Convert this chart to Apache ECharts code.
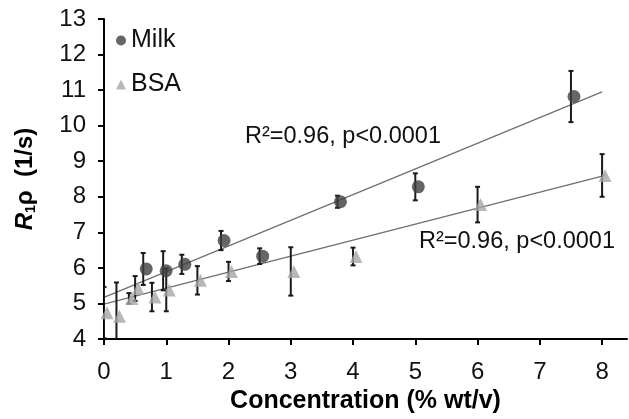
<!DOCTYPE html>
<html>
<head>
<meta charset="utf-8">
<script src="https://cdn.jsdelivr.net/npm/echarts@6/dist/echarts.min.js"></script>
<style>
  html, body { margin: 0; padding: 0; background: #fff; }
  #chart { width: 629px; height: 419px; }
</style>
</head>
<body>
<div id="chart"></div>
<script>
// values
const milkX = [0.63, 0.95, 1.25, 1.88, 2.5, 3.75, 5, 7.5];
const milkY = [5.97, 5.92, 6.1, 6.77, 6.33, 7.86, 8.28, 10.82];
const milkErr = [0.45, 0.55, 0.27, 0.27, 0.22, 0.17, 0.38, 0.72];

const bsaX = [0, 0.2, 0.4, 0.5, 0.77, 1, 1.5, 2, 3, 4, 6, 8];
const bsaY = [4.74, 4.64, 5.14, 5.42, 5.18, 5.38, 5.65, 5.9, 5.9, 6.32, 7.78, 8.6];
const bsaErr = [0.72, 0.95, 0.15, 0.35, 0.4, 0.6, 0.4, 0.27, 0.68, 0.25, 0.5, 0.6];

const milkFitX = [0, 8];
const milkFitY = [5.17, 10.95];
const bsaFitX = [0, 8.05];
const bsaFitY = [4.98, 8.6];

const xTicks = [0, 1, 2, 3, 4, 5, 6, 7, 8];
const statText = 'R²=0.96, p<0.0001';

const FONT = 'Liberation Sans, Arial, sans-serif';
const MILK = '#404040';
const BSA = '#a6a6a6';

const pts = (xs, ys) => xs.map((x, i) => [x, ys[i]]);
const bars = (xs, ys, es) => xs.map((x, i) => [x, ys[i] - es[i], ys[i] + es[i]]);

function renderBar(params, api) {
  const x = api.value(0);
  const top = api.coord([x, api.value(2)]);
  const bot = api.coord([x, api.value(1)]);
  const cap = 2.5;
  const style = { stroke: '#1a1a1a', lineWidth: 2 };
  return {
    type: 'group',
    children: [
      { type: 'line', shape: { x1: top[0], y1: top[1], x2: bot[0], y2: bot[1] }, style },
      { type: 'line', shape: { x1: top[0] - cap, y1: top[1], x2: top[0] + cap, y2: top[1] }, style },
      { type: 'line', shape: { x1: bot[0] - cap, y1: bot[1], x2: bot[0] + cap, y2: bot[1] }, style }
    ]
  };
}

const chart = echarts.init(document.getElementById('chart'), null, { renderer: 'canvas' });

const option = {
  animation: false,
  backgroundColor: '#fff',
  textStyle: { fontFamily: FONT },
  grid: { left: 104, top: 19, width: 523, height: 320, containLabel: false },
  legend: {
    orient: 'vertical',
    left: 111,
    top: 23,
    itemWidth: 10,
    itemHeight: 10,
    itemGap: 19,
    textStyle: { fontSize: 25, color: '#111', fontFamily: FONT },
    data: [
      { name: 'Milk', icon: 'circle', itemStyle: { color: MILK } },
      { name: 'BSA', icon: 'triangle', itemStyle: { color: BSA } }
    ]
  },
  xAxis: {
    type: 'value',
    min: 0,
    max: 8.4,
    interval: 1,
    name: 'Concentration (% wt/v)',
    nameLocation: 'middle',
    nameGap: 46,
    nameTextStyle: { fontSize: 25, fontWeight: 'bold', color: '#000', fontFamily: FONT },
    axisLine: { onZero: false, lineStyle: { color: '#000', width: 2 } },
    axisTick: { customValues: xTicks, length: 6, lineStyle: { color: '#000', width: 2 } },
    axisLabel: { customValues: xTicks, fontSize: 24, color: '#111', margin: 21 },
    splitLine: { show: false }
  },
  yAxis: {
    type: 'value',
    min: 4,
    max: 13,
    interval: 1,
    name: '{i|R}{s|1}{b|ρ  (1/s)}',
    nameLocation: 'middle',
    nameGap: 66,
    nameRotate: 90,
    nameTextStyle: {
      fontSize: 24, fontWeight: 'bold', color: '#000', fontFamily: FONT,
      rich: {
        i: { fontSize: 24, fontWeight: 'bold', fontStyle: 'italic', color: '#000', fontFamily: FONT },
        s: { fontSize: 14, fontWeight: 'bold', color: '#000', fontFamily: FONT, verticalAlign: 'bottom', lineHeight: 26 },
        b: { fontSize: 24, fontWeight: 'bold', color: '#000', fontFamily: FONT }
      }
    },
    axisLine: { show: true, lineStyle: { color: '#000', width: 2 } },
    axisTick: { show: true, length: 6, lineStyle: { color: '#000', width: 2 } },
    axisLabel: { fontSize: 24, color: '#111', margin: 18 },
    splitLine: { show: false }
  },
  graphic: [
    { type: 'text', left: 245, top: 125, style: { text: statText, fontSize: 23.5, fill: '#111', fontFamily: FONT } },
    { type: 'text', left: 419, top: 230, style: { text: statText, fontSize: 23.5, fill: '#111', fontFamily: FONT } }
  ],
  series: [
    {
      name: 'Milk fit', type: 'line', data: pts(milkFitX, milkFitY), showSymbol: false,
      lineStyle: { color: '#6e6e6e', width: 1.2 }, z: 1, silent: true
    },
    {
      name: 'BSA fit', type: 'line', data: pts(bsaFitX, bsaFitY), showSymbol: false,
      lineStyle: { color: '#6e6e6e', width: 1.2 }, z: 1, silent: true
    },
    { name: 'Milk err', type: 'custom', renderItem: renderBar, data: bars(milkX, milkY, milkErr), clip: true, z: 2 },
    { name: 'BSA err', type: 'custom', renderItem: renderBar, data: bars(bsaX, bsaY, bsaErr), clip: true, z: 2 },
    {
      name: 'Milk', type: 'scatter', data: pts(milkX, milkY), symbol: 'circle', symbolSize: 13,
      symbolOffset: [3, 0], itemStyle: { color: MILK }, z: 3
    },
    {
      name: 'BSA', type: 'scatter', data: pts(bsaX, bsaY), symbol: 'triangle', symbolSize: 13,
      symbolOffset: [3, 0], itemStyle: { color: BSA }, z: 3
    }
  ]
};

chart.setOption(option);
</script>
</body>
</html>
